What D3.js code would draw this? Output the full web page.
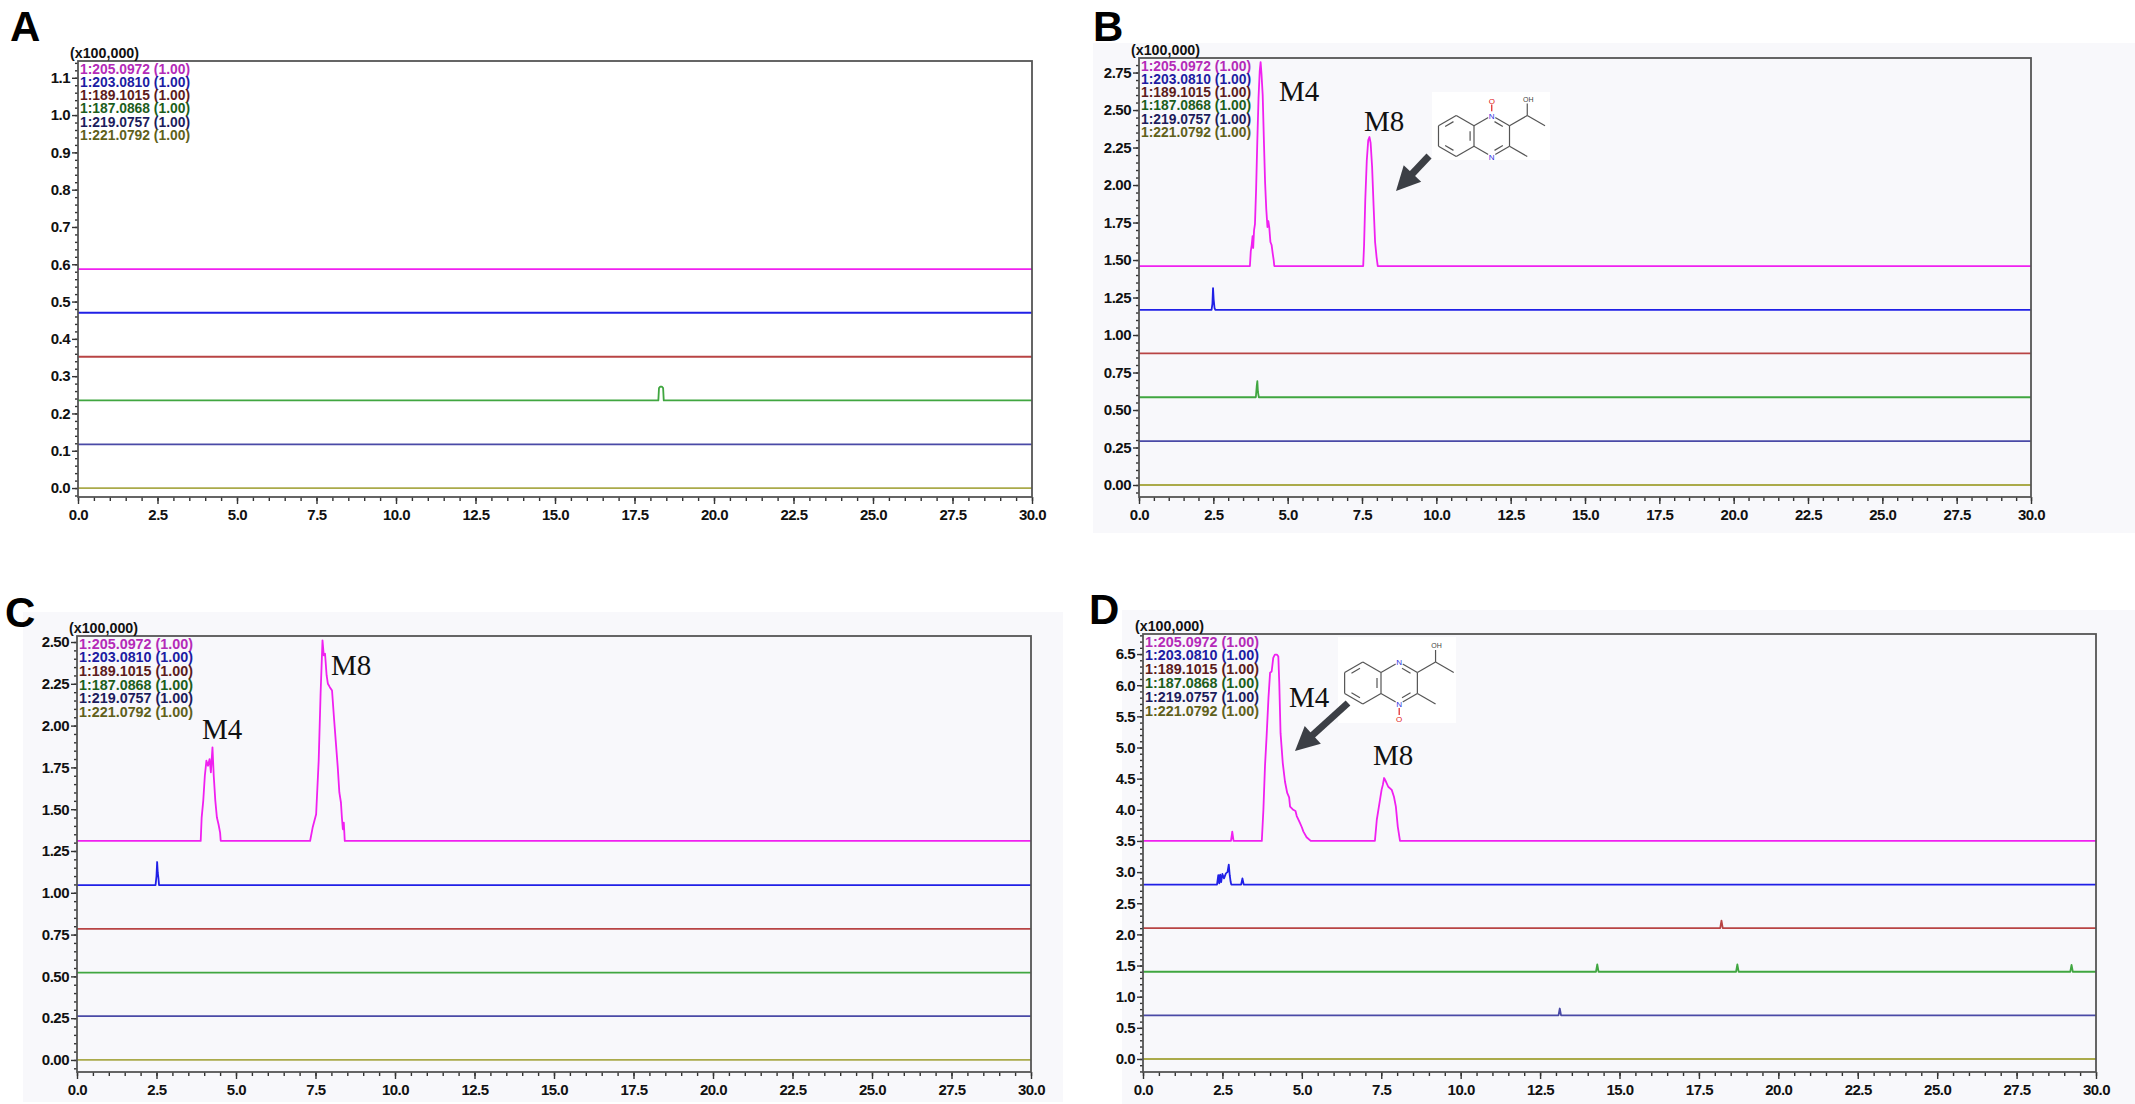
<!DOCTYPE html>
<html>
<head>
<meta charset="utf-8">
<script src="https://cdn.jsdelivr.net/npm/d3@7"></script>
<style>
body { margin: 0; background: #fff; }
svg { display: block; }
text { font-family: "Liberation Sans", Arial, sans-serif; }
</style>
</head>
<body>
<svg id="chart" width="2135" height="1104"></svg>
<script>
// channels, same order in every run (m/z : scale)
var channels = ["1:205.0972 (1.00)", "1:203.0810 (1.00)", "1:189.1015 (1.00)",
                "1:187.0868 (1.00)", "1:219.0757 (1.00)", "1:221.0792 (1.00)"];
var legendColors = ["#b42ab8", "#1c1ca2", "#5c1c1c", "#1c5e1c", "#1c1c5c", "#60601a"];
var traceColors  = ["#f020f0", "#2020e6", "#b84444", "#40a640", "#4a4aa6", "#aaaa4a"];

// retention time axis (min)
var xTicks = [0.0, 2.5, 5.0, 7.5, 10.0, 12.5, 15.0, 17.5, 20.0, 22.5, 25.0, 27.5, 30.0];

// intensity axes (x100,000)
var yTicksA = [0.0, 0.1, 0.2, 0.3, 0.4, 0.5, 0.6, 0.7, 0.8, 0.9, 1.0, 1.1];
var yTicksB = [0.00, 0.25, 0.50, 0.75, 1.00, 1.25, 1.50, 1.75, 2.00, 2.25, 2.50, 2.75];
var yTicksC = [0.00, 0.25, 0.50, 0.75, 1.00, 1.25, 1.50, 1.75, 2.00, 2.25, 2.50];
var yTicksD = [0.0, 0.5, 1.0, 1.5, 2.0, 2.5, 3.0, 3.5, 4.0, 4.5, 5.0, 5.5, 6.0, 6.5];
var yRangeA = [-0.024, 1.145];
var yRangeB = [-0.08, 2.847];
var yRangeC = [-0.072, 2.536];
var yRangeD = [-0.209, 6.822];

// baseline offset of each channel
var baseA = [0.587, 0.470, 0.352, 0.235, 0.117, 0.0];
var baseB = [1.460, 1.167, 0.877, 0.585, 0.292, 0.0];
var baseC = [1.310, 1.046, 0.784, 0.522, 0.262, 0.0];
var baseD = [3.50, 2.80, 2.10, 1.40, 0.70, 0.0];

// peaks [time, intensity] per channel
var peaksA = [[], [], [],
  [[18.25, 0.235], [18.27, 0.268], [18.31, 0.272], [18.36, 0.272], [18.40, 0.268], [18.42, 0.235]],
  [], []];

var peaksB = [
  [[3.73, 1.46], [3.76, 1.56], [3.79, 1.60], [3.82, 1.66], [3.84, 1.58], [3.87, 1.70], [3.90, 1.74],
   [3.94, 1.98], [3.98, 2.30], [4.02, 2.58], [4.06, 2.76], [4.09, 2.82], [4.12, 2.74], [4.16, 2.60],
   [4.20, 2.30], [4.24, 2.02], [4.28, 1.84], [4.32, 1.72], [4.35, 1.76], [4.38, 1.72], [4.42, 1.62],
   [4.46, 1.60], [4.50, 1.54], [4.53, 1.50], [4.55, 1.46],
   [7.54, 1.46], [7.57, 1.60], [7.61, 1.90], [7.66, 2.16], [7.71, 2.30], [7.75, 2.32], [7.79, 2.28],
   [7.84, 2.12], [7.89, 1.86], [7.94, 1.62], [7.99, 1.52], [8.03, 1.46]],
  [[2.44, 1.167], [2.47, 1.21], [2.49, 1.313], [2.51, 1.24], [2.54, 1.18], [2.57, 1.167]],
  [],
  [[3.93, 0.585], [3.96, 0.66], [3.98, 0.693], [4.00, 0.62], [4.03, 0.585]],
  [], []];

var peaksC = [
  [[3.89, 1.31], [3.92, 1.45], [3.97, 1.55], [4.02, 1.70], [4.07, 1.79], [4.12, 1.76], [4.17, 1.80],
   [4.21, 1.72], [4.26, 1.87], [4.30, 1.70], [4.35, 1.55], [4.40, 1.45], [4.45, 1.41], [4.50, 1.36],
   [4.52, 1.31],
   [7.33, 1.31], [7.41, 1.39], [7.52, 1.47], [7.60, 1.79], [7.66, 2.19], [7.72, 2.51], [7.76, 2.42],
   [7.80, 2.43], [7.85, 2.30], [7.89, 2.25], [7.95, 2.23], [8.02, 2.21], [8.08, 2.05], [8.14, 1.90],
   [8.20, 1.75], [8.25, 1.60], [8.30, 1.54], [8.33, 1.45], [8.36, 1.38], [8.39, 1.42], [8.42, 1.31]],
  [[2.47, 1.046], [2.50, 1.10], [2.52, 1.184], [2.54, 1.12], [2.56, 1.09], [2.58, 1.046]],
  [], [], [], []];

var peaksD = [
  [[2.77, 3.50], [2.81, 3.65], [2.85, 3.50],
   [3.74, 3.50], [3.79, 4.00], [3.84, 4.70], [3.89, 5.17], [3.95, 5.80], [4.00, 6.20], [4.05, 6.22],
   [4.10, 6.44], [4.15, 6.49], [4.22, 6.49], [4.26, 6.46], [4.29, 6.03], [4.33, 5.23], [4.40, 4.75],
   [4.47, 4.45], [4.54, 4.27], [4.60, 4.20], [4.63, 4.05], [4.73, 4.00], [4.80, 3.98], [4.84, 3.90],
   [4.94, 3.79], [5.00, 3.72], [5.05, 3.65], [5.15, 3.56], [5.28, 3.50],
   [7.30, 3.50], [7.36, 3.84], [7.46, 4.16], [7.51, 4.32], [7.55, 4.40], [7.59, 4.51], [7.65, 4.45],
   [7.72, 4.37], [7.83, 4.32], [7.90, 4.21], [7.96, 4.05], [8.02, 3.73], [8.09, 3.50]],
  [[2.33, 2.80], [2.37, 2.95], [2.40, 2.82], [2.43, 2.96], [2.46, 2.84], [2.50, 2.97], [2.55, 2.90],
   [2.61, 2.98], [2.66, 3.00], [2.70, 3.12], [2.73, 2.95], [2.76, 2.84], [2.78, 2.80],
   [3.09, 2.80], [3.13, 2.90], [3.17, 2.80]],
  [[18.17, 2.10], [18.21, 2.22], [18.25, 2.10]],
  [[14.26, 1.40], [14.30, 1.52], [14.34, 1.40],
   [18.67, 1.40], [18.71, 1.52], [18.75, 1.40],
   [29.19, 1.40], [29.23, 1.51], [29.27, 1.40]],
  [[13.08, 0.70], [13.12, 0.81], [13.16, 0.70]],
  []];

var svg = d3.select("#chart");

// light grey panels behind B, C, D
[[1093, 43, 1042, 490], [23, 612, 1040, 490], [1122, 610, 1013, 494]].forEach(function(r) {
  svg.append("rect").attr("x", r[0]).attr("y", r[1]).attr("width", r[2]).attr("height", r[3])
    .attr("fill", "#f8f8fb");
});

function drawPanel(p) {
  var x = d3.scaleLinear().domain([0, 30]).range([p.x0, p.x1]);
  var y = d3.scaleLinear().domain(p.yRange).range([p.bottom, p.top]);
  var g = svg.append("g");

  // panel letter
  svg.append("text").attr("x", p.lx).attr("y", p.ly).text(p.letter)
    .style("font-size", "42px").style("font-weight", "bold").attr("fill", "#000");

  // clip region
  var cid = "clip" + p.letter;
  svg.append("clipPath").attr("id", cid).append("rect")
    .attr("x", p.x0).attr("y", p.top).attr("width", p.x1 - p.x0).attr("height", p.bottom - p.top);

  // traces, draw bottom channel first
  var line = d3.line().x(function(d) { return x(d[0]); }).y(function(d) { return y(d[1]); });
  for (var i = channels.length - 1; i >= 0; i--) {
    var pts = [[0, p.base[i]]].concat(p.peaks[i]).concat([[30, p.base[i]]]);
    g.append("path").datum(pts).attr("d", line)
      .attr("clip-path", "url(#" + cid + ")")
      .attr("fill", "none").attr("stroke", traceColors[i]).attr("stroke-width", 1.8)
      .attr("stroke-linejoin", "round");
  }

  // axes
  var xMinor = d3.range(0, 30.001, 0.5);
  var yMinor = d3.range(Math.ceil(p.yRange[0] / p.minor) * p.minor, p.yRange[1], p.minor);

  var gx = g.append("g").attr("transform", "translate(0," + p.bottom + ")");
  gx.call(d3.axisBottom(x).tickValues(xMinor).tickSize(4).tickFormat(""));
  gx.append("g").call(d3.axisBottom(x).tickValues(xTicks).tickSize(7).tickPadding(5)
    .tickFormat(d3.format(".1f")));

  var gy = g.append("g").attr("transform", "translate(" + p.x0 + ",0)");
  gy.call(d3.axisLeft(y).tickValues(yMinor).tickSize(3).tickFormat(""));
  gy.append("g").call(d3.axisLeft(y).tickValues(p.yTicks).tickSize(6).tickPadding(2)
    .tickFormat(d3.format(p.fmt)));

  g.selectAll(".domain").remove();
  g.selectAll(".tick line").attr("stroke", "#333").attr("stroke-width", 1.4);
  g.selectAll(".tick text").attr("fill", "#111").style("font-size", "15px")
    .style("font-weight", "bold").style("font-family", "'Liberation Sans', Arial, sans-serif")
    .style("letter-spacing", "-0.5px");

  // frame
  g.append("rect").attr("x", p.x0).attr("y", p.top).attr("width", p.x1 - p.x0)
    .attr("height", p.bottom - p.top).attr("fill", "none")
    .attr("stroke", "#555").attr("stroke-width", 1.8);

  // scale label
  g.append("text").attr("x", p.x0 - 8).attr("y", p.top - 3).text("(x100,000)")
    .attr("textLength", 69).attr("lengthAdjust", "spacingAndGlyphs")
    .style("font-size", "14.5px").style("font-weight", "bold").attr("fill", "#111");

  // legend
  channels.forEach(function(c, i) {
    g.append("text").attr("x", p.x0 + 2).attr("y", p.top + 12.5 + i * p.lh).text(c)
      .attr("textLength", p.lw).attr("lengthAdjust", "spacingAndGlyphs")
      .style("font-size", p.lf + "px").style("font-weight", "bold")
      .attr("fill", legendColors[i]);
  });

  // peak names
  (p.names || []).forEach(function(n) {
    g.append("text").attr("x", n[1]).attr("y", n[2]).text(n[0])
      .style("font-family", "'Liberation Serif', 'Times New Roman', serif")
      .style("font-size", "29px").attr("fill", "#111");
  });
}

function drawArrow(x1, y1, x2, y2) {
  var dx = x2 - x1, dy = y2 - y1, len = Math.sqrt(dx * dx + dy * dy);
  var ux = dx / len, uy = dy / len, hl = 24, hw = 12;
  var bx = x2 - ux * hl, by = y2 - uy * hl;
  svg.append("line").attr("x1", x1).attr("y1", y1).attr("x2", bx + ux * 2).attr("y2", by + uy * 2)
    .attr("stroke", "#3c3f45").attr("stroke-width", 7);
  svg.append("path")
    .attr("d", "M" + x2 + "," + y2 + "L" + (bx - uy * hw) + "," + (by + ux * hw) +
      "L" + (bx + uy * hw) + "," + (by - ux * hw) + "Z")
    .attr("fill", "#3c3f45");
}

// 2-(1-hydroxyethyl)-3-methylquinoxaline N-oxide sketch
function drawMol(box, cx, cy, L, oxTop) {
  svg.append("rect").attr("x", box[0]).attr("y", box[1]).attr("width", box[2]).attr("height", box[3])
    .attr("fill", "#fff");
  var a = L * Math.cos(Math.PI / 6);
  var g = svg.append("g").attr("transform", "translate(" + cx + "," + cy + ")");
  var bz = [[0, -L / 2], [-a, -L], [-2 * a, -L / 2], [-2 * a, L / 2], [-a, L], [0, L / 2]];
  var pz = [[0, -L / 2], [a, -L], [2 * a, -L / 2], [2 * a, L / 2], [a, L], [0, L / 2]];
  var bonds = [];
  for (var i = 0; i < 6; i++) {
    bonds.push([bz[i], bz[(i + 1) % 6]]);
    if (i < 5) bonds.push([pz[i], pz[i + 1]]);
  }
  var ch = [3 * a, -L];
  bonds.push([pz[2], ch], [ch, [4 * a, -L / 2]], [ch, [3 * a, -L - 12]], [pz[3], [3 * a, L]]);
  bonds.forEach(function(b) {
    g.append("line").attr("x1", b[0][0]).attr("y1", b[0][1]).attr("x2", b[1][0]).attr("y2", b[1][1])
      .attr("stroke", "#555").attr("stroke-width", 1.2);
  });
  // inner lines of double bonds
  function inner(p1, p2, c) {
    var s = 0.2, k = 0.22;
    var q1 = [p1[0] + (c[0] - p1[0]) * k, p1[1] + (c[1] - p1[1]) * k];
    var q2 = [p2[0] + (c[0] - p2[0]) * k, p2[1] + (c[1] - p2[1]) * k];
    var m1 = [q1[0] + (q2[0] - q1[0]) * s, q1[1] + (q2[1] - q1[1]) * s];
    var m2 = [q2[0] + (q1[0] - q2[0]) * s, q2[1] + (q1[1] - q2[1]) * s];
    g.append("line").attr("x1", m1[0]).attr("y1", m1[1]).attr("x2", m2[0]).attr("y2", m2[1])
      .attr("stroke", "#555").attr("stroke-width", 1.2);
  }
  var cb = [-a, 0], cp = [a, 0];
  inner(bz[1], bz[2], cb); inner(bz[3], bz[4], cb); inner(bz[5], bz[0], cb);
  inner(pz[1], pz[2], cp); inner(pz[3], pz[4], cp);
  // N-oxide
  var nOx = oxTop ? pz[1] : pz[4], oy = oxTop ? -L - 15 : L + 15;
  g.append("line").attr("x1", a).attr("y1", nOx[1] + (oxTop ? -4 : 4)).attr("x2", a).attr("y2", oy + (oxTop ? 4 : -4))
    .attr("stroke", "#e02020").attr("stroke-width", 1.2);
  [pz[1], pz[4]].forEach(function(n) {
    g.append("circle").attr("cx", n[0]).attr("cy", n[1]).attr("r", 4).attr("fill", "#fff");
    g.append("text").attr("x", n[0]).attr("y", n[1] + 3).attr("text-anchor", "middle").text("N")
      .style("font-size", "8px").attr("fill", "#3030e0");
  });
  g.append("text").attr("x", a).attr("y", oy + 3).attr("text-anchor", "middle").text("O")
    .style("font-size", "8px").attr("fill", "#e02020");
  g.append("text").attr("x", 3 * a + 1).attr("y", -L - 14).attr("text-anchor", "middle").text("OH")
    .style("font-size", "7px").attr("fill", "#444");
}

drawPanel({letter: "A", lx: 10, ly: 41, x0: 78, x1: 1032, top: 61, bottom: 497,
  yRange: yRangeA, yTicks: yTicksA, fmt: ".1f", minor: 0.02, lf: 14.5, lh: 13.3, lw: 110,
  base: baseA, peaks: peaksA});
drawPanel({letter: "B", lx: 1093, ly: 41, x0: 1139, x1: 2031, top: 58, bottom: 497,
  yRange: yRangeB, yTicks: yTicksB, fmt: ".2f", minor: 0.05, lf: 14.5, lh: 13.3, lw: 110,
  base: baseB, peaks: peaksB, names: [["M4", 1279, 101], ["M8", 1364, 131]]});
drawPanel({letter: "C", lx: 5, ly: 627, x0: 77, x1: 1031, top: 636, bottom: 1072,
  yRange: yRangeC, yTicks: yTicksC, fmt: ".2f", minor: 0.05, lf: 15, lh: 13.7, lw: 114,
  base: baseC, peaks: peaksC, names: [["M4", 202, 739], ["M8", 331, 675]]});
drawPanel({letter: "D", lx: 1089, ly: 624, x0: 1143, x1: 2096, top: 634, bottom: 1072,
  yRange: yRangeD, yTicks: yTicksD, fmt: ".1f", minor: 0.1, lf: 15, lh: 13.8, lw: 114,
  base: baseD, peaks: peaksD, names: [["M4", 1289, 707], ["M8", 1373, 765]]});

drawMol([1432, 92, 118, 68], 1474, 136, 20.5, true);
drawArrow(1429, 156, 1396, 191);
drawMol([1338, 637, 118, 86], 1381, 683, 21, false);
drawArrow(1348, 703, 1295, 751);
</script>
</body>
</html>
